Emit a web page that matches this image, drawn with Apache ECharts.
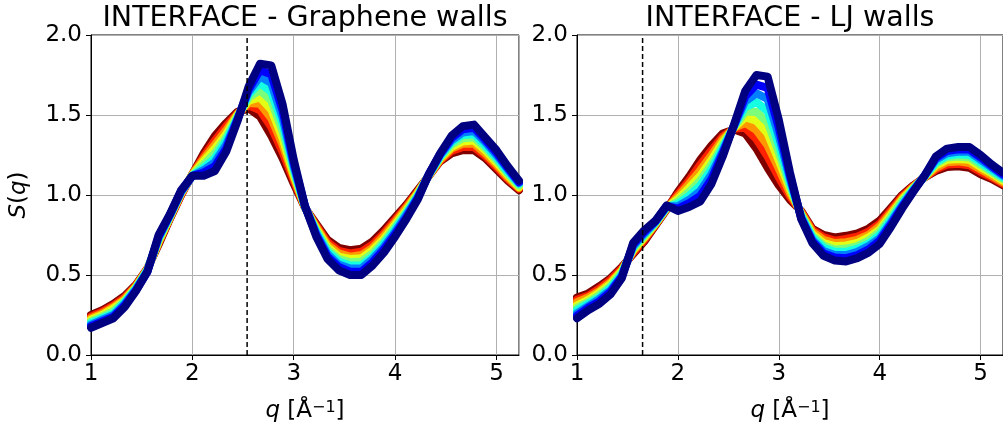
<!DOCTYPE html>
<html>
<head>
<meta charset="utf-8">
<script src="https://cdn.jsdelivr.net/npm/echarts@6/dist/echarts.min.js"></script>
<style>
html, body { margin: 0; padding: 0; background: #fff; }
#chart { width: 1003px; height: 430px; }
</style>
</head>
<body>
<div id="chart"></div>
<script>
// q grid (1/A), step 1/9
var qValues = [1.000, 1.111, 1.222, 1.333, 1.444, 1.556, 1.667, 1.778, 1.889, 2.000,
	2.111, 2.222, 2.333, 2.444, 2.556, 2.667, 2.778, 2.889, 3.000, 3.111,
	3.222, 3.333, 3.444, 3.556, 3.667, 3.778, 3.889, 4.000, 4.111, 4.222,
	4.333, 4.444, 4.556, 4.667, 4.778, 4.889, 5.000, 5.111, 5.222];

// Graphene walls, S(q) curves, earliest (red) to latest (dark blue)
var gr0 = [0.25, 0.28, 0.32, 0.37, 0.44, 0.54, 0.69, 0.85, 1.00, 1.13, 1.26, 1.37, 1.45, 1.52, 1.54, 1.49, 1.37, 1.23, 1.07, 0.92, 0.82, 0.72, 0.67, 0.655, 0.665, 0.71, 0.78, 0.86, 0.94, 1.03, 1.12, 1.21, 1.26, 1.28, 1.28, 1.23, 1.16, 1.09, 1.03];
var gr1 = [0.24, 0.27, 0.31, 0.36, 0.435, 0.54, 0.70, 0.855, 1.00, 1.13, 1.24, 1.34, 1.43, 1.51, 1.56, 1.53, 1.425, 1.27, 1.09, 0.92, 0.81, 0.705, 0.65, 0.635, 0.645, 0.69, 0.76, 0.845, 0.93, 1.02, 1.12, 1.215, 1.275, 1.30, 1.30, 1.245, 1.175, 1.10, 1.04];
var gr2 = [0.23, 0.26, 0.30, 0.35, 0.43, 0.535, 0.705, 0.86, 1.01, 1.13, 1.225, 1.315, 1.405, 1.505, 1.575, 1.57, 1.48, 1.315, 1.11, 0.92, 0.80, 0.69, 0.635, 0.615, 0.625, 0.67, 0.745, 0.83, 0.92, 1.015, 1.12, 1.22, 1.29, 1.32, 1.32, 1.26, 1.19, 1.11, 1.045];
var gr3 = [0.22, 0.25, 0.29, 0.34, 0.425, 0.535, 0.71, 0.86, 1.01, 1.125, 1.21, 1.29, 1.38, 1.50, 1.59, 1.61, 1.535, 1.355, 1.125, 0.925, 0.79, 0.675, 0.615, 0.60, 0.605, 0.655, 0.725, 0.815, 0.905, 1.01, 1.125, 1.23, 1.30, 1.335, 1.34, 1.28, 1.205, 1.125, 1.05];
var gr4 = [0.21, 0.24, 0.275, 0.335, 0.42, 0.53, 0.72, 0.865, 1.015, 1.125, 1.19, 1.26, 1.36, 1.49, 1.61, 1.655, 1.59, 1.40, 1.145, 0.925, 0.78, 0.66, 0.60, 0.58, 0.585, 0.635, 0.71, 0.80, 0.895, 1.00, 1.125, 1.235, 1.315, 1.355, 1.36, 1.295, 1.22, 1.135, 1.06];
var gr5 = [0.20, 0.23, 0.26, 0.33, 0.415, 0.53, 0.73, 0.87, 1.02, 1.12, 1.17, 1.23, 1.34, 1.48, 1.63, 1.70, 1.645, 1.445, 1.165, 0.925, 0.77, 0.645, 0.585, 0.56, 0.56, 0.615, 0.695, 0.785, 0.885, 0.99, 1.125, 1.24, 1.33, 1.375, 1.38, 1.31, 1.235, 1.145, 1.07];
var gr6 = [0.19, 0.22, 0.25, 0.32, 0.41, 0.525, 0.735, 0.875, 1.02, 1.12, 1.155, 1.205, 1.315, 1.475, 1.645, 1.74, 1.70, 1.485, 1.18, 0.93, 0.76, 0.63, 0.565, 0.54, 0.54, 0.60, 0.675, 0.77, 0.875, 0.985, 1.13, 1.25, 1.34, 1.39, 1.40, 1.33, 1.25, 1.16, 1.075];
var gr7 = [0.18, 0.21, 0.24, 0.31, 0.405, 0.52, 0.74, 0.875, 1.025, 1.12, 1.14, 1.18, 1.29, 1.47, 1.66, 1.78, 1.755, 1.53, 1.20, 0.93, 0.75, 0.615, 0.55, 0.52, 0.52, 0.58, 0.66, 0.755, 0.86, 0.98, 1.13, 1.255, 1.355, 1.41, 1.42, 1.345, 1.265, 1.17, 1.08];
var gr8 = [0.17, 0.20, 0.23, 0.30, 0.40, 0.52, 0.75, 0.88, 1.03, 1.12, 1.12, 1.15, 1.27, 1.46, 1.68, 1.82, 1.81, 1.57, 1.22, 0.93, 0.74, 0.60, 0.53, 0.50, 0.50, 0.56, 0.64, 0.74, 0.85, 0.97, 1.13, 1.26, 1.37, 1.43, 1.44, 1.36, 1.28, 1.18, 1.09];

// LJ walls
var lj0 = [0.36, 0.385, 0.43, 0.48, 0.55, 0.63, 0.71, 0.81, 0.91, 1.02, 1.115, 1.22, 1.31, 1.385, 1.41, 1.385, 1.29, 1.17, 1.06, 0.97, 0.90, 0.79, 0.75, 0.735, 0.745, 0.76, 0.79, 0.84, 0.92, 1.00, 1.06, 1.11, 1.15, 1.175, 1.18, 1.17, 1.13, 1.10, 1.06];
var lj1 = [0.345, 0.37, 0.415, 0.47, 0.54, 0.64, 0.72, 0.815, 0.915, 1.005, 1.09, 1.19, 1.28, 1.365, 1.415, 1.42, 1.35, 1.24, 1.11, 0.99, 0.895, 0.78, 0.735, 0.715, 0.725, 0.74, 0.77, 0.82, 0.905, 0.99, 1.055, 1.11, 1.16, 1.19, 1.195, 1.185, 1.145, 1.11, 1.07];
var lj2 = [0.33, 0.36, 0.40, 0.455, 0.53, 0.65, 0.73, 0.82, 0.915, 0.99, 1.07, 1.155, 1.25, 1.35, 1.42, 1.45, 1.405, 1.31, 1.165, 1.01, 0.89, 0.77, 0.72, 0.70, 0.705, 0.72, 0.75, 0.805, 0.89, 0.98, 1.05, 1.11, 1.17, 1.205, 1.21, 1.20, 1.16, 1.12, 1.08];
var lj3 = [0.31, 0.345, 0.39, 0.445, 0.525, 0.655, 0.735, 0.82, 0.92, 0.975, 1.045, 1.12, 1.22, 1.33, 1.42, 1.485, 1.465, 1.385, 1.215, 1.035, 0.88, 0.755, 0.70, 0.68, 0.685, 0.70, 0.735, 0.785, 0.875, 0.97, 1.045, 1.115, 1.185, 1.22, 1.225, 1.22, 1.175, 1.135, 1.09];
var lj4 = [0.295, 0.33, 0.375, 0.43, 0.515, 0.665, 0.745, 0.825, 0.92, 0.96, 1.02, 1.09, 1.19, 1.31, 1.425, 1.52, 1.52, 1.455, 1.265, 1.055, 0.875, 0.745, 0.685, 0.66, 0.665, 0.68, 0.715, 0.77, 0.86, 0.96, 1.04, 1.115, 1.195, 1.235, 1.24, 1.235, 1.19, 1.145, 1.10];
var lj5 = [0.28, 0.32, 0.36, 0.42, 0.505, 0.675, 0.755, 0.83, 0.925, 0.945, 0.995, 1.06, 1.16, 1.295, 1.43, 1.55, 1.58, 1.525, 1.315, 1.075, 0.87, 0.735, 0.67, 0.645, 0.645, 0.665, 0.695, 0.75, 0.845, 0.945, 1.035, 1.115, 1.205, 1.245, 1.255, 1.25, 1.205, 1.155, 1.11];
var lj6 = [0.26, 0.305, 0.35, 0.405, 0.495, 0.68, 0.76, 0.835, 0.93, 0.93, 0.97, 1.025, 1.13, 1.275, 1.43, 1.585, 1.635, 1.60, 1.37, 1.10, 0.86, 0.72, 0.65, 0.625, 0.625, 0.645, 0.68, 0.73, 0.83, 0.935, 1.03, 1.12, 1.22, 1.26, 1.27, 1.27, 1.22, 1.17, 1.12];
var lj7 = [0.245, 0.295, 0.335, 0.395, 0.49, 0.69, 0.77, 0.835, 0.93, 0.915, 0.95, 0.995, 1.10, 1.26, 1.435, 1.615, 1.69, 1.67, 1.42, 1.12, 0.855, 0.71, 0.635, 0.61, 0.605, 0.625, 0.66, 0.715, 0.815, 0.925, 1.025, 1.12, 1.23, 1.275, 1.285, 1.285, 1.235, 1.18, 1.13];
var lj8 = [0.23, 0.28, 0.32, 0.38, 0.48, 0.70, 0.78, 0.84, 0.935, 0.90, 0.925, 0.96, 1.07, 1.24, 1.44, 1.65, 1.75, 1.74, 1.47, 1.14, 0.85, 0.70, 0.62, 0.59, 0.585, 0.605, 0.64, 0.695, 0.80, 0.915, 1.02, 1.12, 1.24, 1.29, 1.30, 1.30, 1.25, 1.19, 1.14];

var grapheneCurves = [gr0, gr1, gr2, gr3, gr4, gr5, gr6, gr7, gr8];
var ljCurves = [lj0, lj1, lj2, lj3, lj4, lj5, lj6, lj7, lj8];

// dashed marker positions
var grapheneCut = 2.54;
var ljCut = 1.65;

var panelTitles = ["INTERFACE - Graphene walls", "INTERFACE - LJ walls"];
var qMin = 1, qMax = 5.222;
var sMin = 0, sMax = 2;

var FONT = "DejaVu Sans";

//jet colormap (matplotlib)
function seg(pts, t){
	for (var i = 1; i < pts.length; i++){
		if (t <= pts[i][0]){
			var a = pts[i - 1], b = pts[i];
			return a[1] + (b[1] - a[1]) * (t - a[0]) / (b[0] - a[0]);
		}
	}
	return pts[pts.length - 1][1];
}
function jet(t){
	var r = seg([[0, 0], [0.35, 0], [0.66, 1], [0.89, 1], [1, 0.5]], t);
	var g = seg([[0, 0], [0.125, 0], [0.375, 1], [0.64, 1], [0.91, 0], [1, 0]], t);
	var b = seg([[0, 0.5], [0.11, 1], [0.34, 1], [0.65, 0], [1, 0]], t);
	return "rgb(" + Math.round(r * 255) + "," + Math.round(g * 255) + "," + Math.round(b * 255) + ")";
}

function pairs(ys){
	var out = [];
	for (var i = 0; i < qValues.length; i++) out.push([qValues[i], ys[i]]);
	return out;
}

var grids = [
	{left: 91, top: 35, width: 428, height: 320},
	{left: 577, top: 35, width: 427, height: 320}
];

function makeXAxis(idx){
	return {
		type: "value", gridIndex: idx, min: qMin, max: qMax, interval: 1,
		name: "{i|q} [Å{sup|−1}]", nameLocation: "middle", nameGap: 45,
		nameTextStyle: {
			color: "#000", fontFamily: FONT, fontSize: 23,
			rich: {
				i: {fontStyle: "italic", fontFamily: FONT, fontSize: 23, color: "#000"},
				sup: {fontFamily: FONT, fontSize: 16, color: "#000", verticalAlign: "top", lineHeight: 16}
			}
		},
		axisLine: {show: true, onZero: false, lineStyle: {color: "#000", width: 1}},
		axisTick: {show: true, length: 5, lineStyle: {color: "#000", width: 1}},
		axisLabel: {color: "#000", fontFamily: FONT, fontSize: 23, margin: 8, showMaxLabel: false},
		splitLine: {show: true, lineStyle: {color: "#b0b0b0", width: 1}}
	};
}
function makeYAxis(idx, withName){
	var ax = {
		type: "value", gridIndex: idx, min: sMin, max: sMax, interval: 0.5,
		axisLine: {show: true, lineStyle: {color: "#000", width: 1}},
		axisTick: {show: true, length: 5, lineStyle: {color: "#000", width: 1}},
		axisLabel: {color: "#000", fontFamily: FONT, fontSize: 23, margin: 9,
			formatter: function(v){ return v.toFixed(1); }},
		splitLine: {show: true, lineStyle: {color: "#b0b0b0", width: 1}}
	};
	if (withName){
		ax.name = "{i|S}({i|q})";
		ax.nameLocation = "middle";
		ax.nameRotate = 90;
		ax.nameGap = 60;
		ax.nameTextStyle = {color: "#000", fontFamily: FONT, fontSize: 23,
			rich: {i: {fontStyle: "italic", fontFamily: FONT, fontSize: 23, color: "#000"}}};
	}
	return ax;
}

var series = [];
function addPanel(curves, cut, idx){
	var n = curves.length;
	for (var i = 0; i < n; i++){
		series.push({
			type: "line", xAxisIndex: idx, yAxisIndex: idx,
			data: pairs(curves[i]), showSymbol: false, symbol: "none", silent: true,
			animation: false,
			lineStyle: {color: jet(1 - i / (n - 1)), width: 8, join: "round", cap: "round"},
			z: 2 + i
		});
	}
	series.push({
		type: "line", xAxisIndex: idx, yAxisIndex: idx,
		data: [[cut, sMin], [cut, sMax]], showSymbol: false, symbol: "none", silent: true,
		animation: false,
		lineStyle: {color: "#000", width: 1.5, type: [5, 3]},
		z: 20
	});
}
addPanel(grapheneCurves, grapheneCut, 0);
addPanel(ljCurves, ljCut, 1);

var myChart = echarts.init(document.getElementById("chart"), null, {renderer: "canvas"});
myChart.setOption({
	animation: false,
	backgroundColor: "#fff",
	title: [
		{text: panelTitles[0], left: 305, top: 4, textAlign: "center", padding: 0,
			textStyle: {fontFamily: FONT, fontSize: 28.5, fontWeight: "normal", color: "#000"}},
		{text: panelTitles[1], left: 790, top: 4, textAlign: "center", padding: 0,
			textStyle: {fontFamily: FONT, fontSize: 28.5, fontWeight: "normal", color: "#000"}}
	],
	grid: grids.map(function(g){
		return {left: g.left, top: g.top, width: g.width, height: g.height,
			show: true, borderColor: "#000", borderWidth: 1, backgroundColor: "transparent"};
	}),
	xAxis: [makeXAxis(0), makeXAxis(1)],
	yAxis: [makeYAxis(0, true), makeYAxis(1, false)],
	series: series
});
</script>
</body>
</html>
